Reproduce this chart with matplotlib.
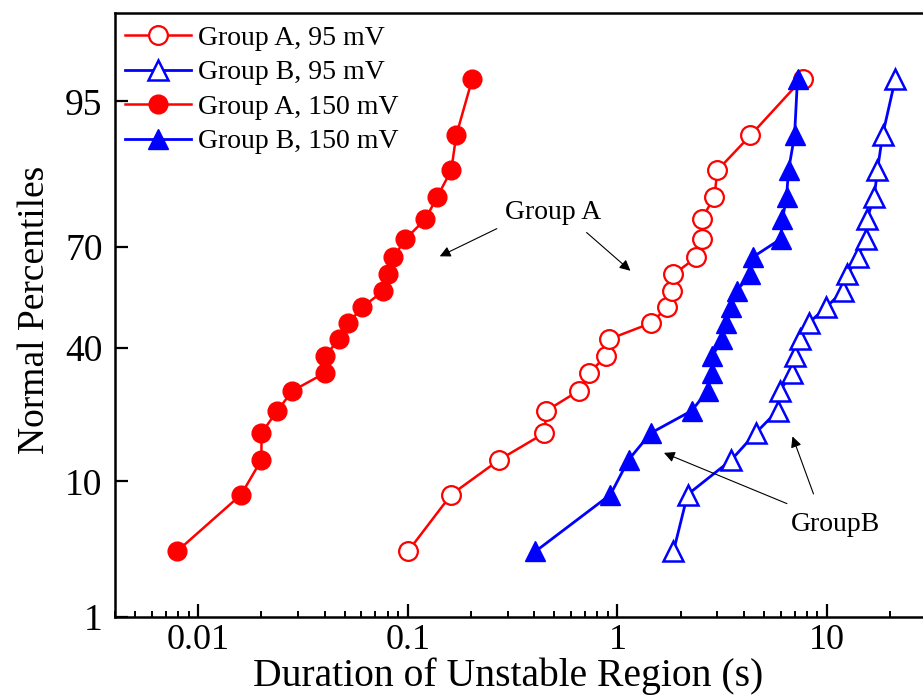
import numpy as np
import matplotlib
matplotlib.use('Agg')
import matplotlib.pyplot as plt
from matplotlib.ticker import LogLocator, NullLocator, NullFormatter
from statistics import NormalDist

# %% Data
# cumulative percentiles shared by every series (20 samples each)
percentiles = [3.43, 8.33, 13.24, 18.14, 23.04, 27.94, 32.84, 37.75, 42.65, 47.55,
               52.45, 57.35, 62.25, 67.16, 72.06, 76.96, 81.86, 86.76, 91.67, 96.57]

group_a_95 = [0.100, 0.161, 0.273, 0.448, 0.458, 0.652, 0.735, 0.886, 0.916, 1.45,
              1.73, 1.83, 1.85, 2.38, 2.52, 2.52, 2.90, 3.00, 4.31, 7.64]
group_b_95 = [1.85, 2.16, 3.50, 4.56, 5.81, 5.94, 6.84, 7.00, 7.47, 8.17,
              9.94, 11.9, 12.5, 14.0, 15.3, 15.5, 16.8, 17.4, 18.4, 21.2]
group_a_150 = [0.0079, 0.0160, 0.0200, 0.0200, 0.0238, 0.0281, 0.0404, 0.0404, 0.0470, 0.0520,
               0.0607, 0.0764, 0.0807, 0.0853, 0.0973, 0.121, 0.138, 0.161, 0.170, 0.203]
group_b_150 = [0.406, 0.926, 1.13, 1.44, 2.26, 2.69, 2.81, 2.84, 3.17, 3.31,
               3.50, 3.70, 4.31, 4.41, 6.00, 6.13, 6.41, 6.55, 7.00, 7.23]

y_ticks = [1, 10, 40, 70, 95]
x_ticks = [0.01, 0.1, 1, 10]
x_ticklabels = ['0.01', '0.1', '1', '10']

# %% Normal probability scale for the y axis
_nd = NormalDist()


def _to_z(p):
    p = np.clip(np.asarray(p, dtype=float), 1e-6, 100 - 1e-6)
    return np.vectorize(lambda v: _nd.inv_cdf(v / 100.0) if np.isfinite(v) else np.nan,
                        otypes=[float])(p)


def _from_z(z):
    z = np.asarray(z, dtype=float)
    return np.vectorize(lambda v: _nd.cdf(v) * 100.0 if np.isfinite(v) else np.nan,
                        otypes=[float])(z)


# %% Figure
plt.rcParams['font.family'] = ['Liberation Serif', 'DejaVu Serif']
RED = '#ff0000'
BLUE = '#0000ff'

fig = plt.figure(figsize=(9.23, 7.0), dpi=100)
ax = fig.add_axes([115 / 923, 83 / 700, 812 / 923, 604 / 700])

ax.plot(group_a_95, percentiles, color=RED, lw=1.8, marker='o', ms=13.5,
        mfc='white', mec=RED, mew=1.6, label='Group A, 95 mV')
ax.plot(group_b_95, percentiles, color=BLUE, lw=2.0, marker='^', ms=15,
        mfc='white', mec=BLUE, mew=1.8, label='Group B, 95 mV')
ax.plot(group_a_150, percentiles, color=RED, lw=1.8, marker='o', ms=13.5,
        mfc=RED, mec=RED, label='Group A, 150 mV')
ax.plot(group_b_150, percentiles, color=BLUE, lw=2.0, marker='^', ms=15,
        mfc=BLUE, mec=BLUE, label='Group B, 150 mV')

ax.set_xscale('log')
ax.set_xlim(0.004, 30)
ax.set_yscale('function', functions=(_to_z, _from_z))
ax.set_ylim(1, 99)

ax.set_xticks(x_ticks)
ax.set_xticklabels(x_ticklabels)
ax.xaxis.set_minor_locator(LogLocator(base=10, subs=np.arange(2, 10)))
ax.xaxis.set_minor_formatter(NullFormatter())
ax.set_yticks(y_ticks)
ax.set_yticklabels([str(t) for t in y_ticks])
ax.yaxis.set_minor_locator(NullLocator())

ax.tick_params(which='major', direction='in', length=9.5, width=1.6,
               top=False, right=False)
ax.tick_params(axis='x', which='major', pad=5, labelsize=26)
ax.tick_params(axis='y', which='major', pad=9, labelsize=27)
ax.tick_params(which='minor', direction='in', length=4.5, width=1.4, top=False, right=False)
for sp in ax.spines.values():
    sp.set_linewidth(1.8)

ax.set_xlabel('Duration of Unstable Region (s)', fontsize=28.5, labelpad=0)
ax.set_ylabel('Normal Percentiles', fontsize=27, labelpad=9)
ax.xaxis.label.set_x(0.484)
ax.yaxis.label.set_y(0.508)

ax.legend(loc='upper left', bbox_to_anchor=(-0.012, 1.012), frameon=False, fontsize=20,
          handlelength=2.4, handletextpad=0.25, labelspacing=0.33, borderaxespad=0.3)

# %% Annotations
arrow = dict(arrowstyle='-|>', color='black', lw=0.8, mutation_scale=16)
ax.text(0.495, 78.5, 'Group A', fontsize=20, ha='center', va='center')
ax.annotate('', xy=(0.138, 67.1), xytext=(0.273, 75.0), arrowprops=arrow)
ax.annotate('', xy=(1.18, 62.8), xytext=(0.696, 74.2), arrowprops=arrow)

ax.text(11.0, 5.3, 'GroupB', fontsize=20, ha='center', va='center')
ax.annotate('', xy=(1.62, 14.6), xytext=(6.62, 7.2), arrowprops=arrow)
ax.annotate('', xy=(6.77, 18.0), xytext=(8.71, 8.1), arrowprops=arrow)

fig.savefig('out.png', dpi=100)
